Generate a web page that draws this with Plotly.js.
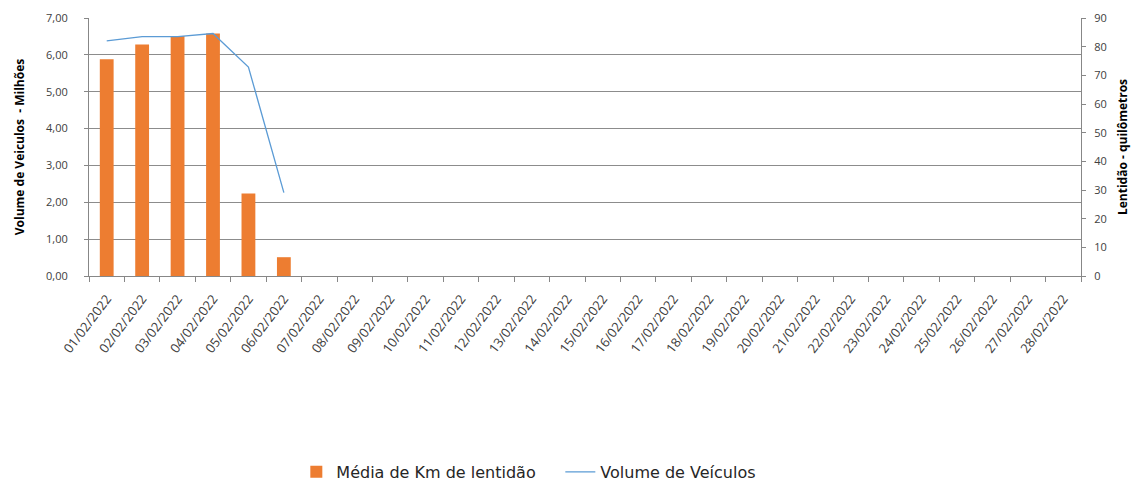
<!DOCTYPE html>
<html>
<head>
<meta charset="utf-8">
<script src="https://cdn.plot.ly/plotly-3.0.1.min.js"></script>
<style>html,body{margin:0;padding:0;background:#fff;}#chart{width:1131px;height:483px;}</style>
</head>
<body>
<div id="chart"></div>
<script>
const dates = ["01/02/2022","02/02/2022","03/02/2022","04/02/2022","05/02/2022","06/02/2022","07/02/2022","08/02/2022","09/02/2022","10/02/2022","11/02/2022","12/02/2022","13/02/2022","14/02/2022","15/02/2022","16/02/2022","17/02/2022","18/02/2022","19/02/2022","20/02/2022","21/02/2022","22/02/2022","23/02/2022","24/02/2022","25/02/2022","26/02/2022","27/02/2022","28/02/2022"];
const barDates = ["01/02/2022","02/02/2022","03/02/2022","04/02/2022","05/02/2022","06/02/2022"];
const barValues = [5.88, 6.28, 6.51, 6.58, 2.24, 0.51];
const lineValues = [82.0, 83.5, 83.5, 84.6, 72.9, 29.1];
const barName = "Média de Km de lentidão";
const lineName = "Volume de Veículos";
const leftTitle = "Volume de Veiculos  - Milhões";
const rightTitle = "Lentidão - quilômetros";

const font = "Open Sans, sans-serif";
const gray = "#404040";
const traces = [
  {type:"bar", x:barDates, y:barValues, name:barName, marker:{color:"#ED7D31"}, yaxis:"y", width:0.39},
  {type:"scatter", mode:"lines", x:barDates, y:lineValues, name:lineName, line:{color:"#5B9BD5", width:1.3}, yaxis:"y2"}
];
const layout = {
  width:1131, height:483,
  margin:{l:89, r:50, t:18, b:207, autoexpand:false},
  paper_bgcolor:"#fff", plot_bgcolor:"#fff",
  separators:",.",
  font:{family:font, size:11, color:gray},
  showlegend:true,
  legend:{orientation:"h", xref:"container", yref:"container", x:0.262, xanchor:"left", y:0.023, yanchor:"middle",
    font:{size:16, color:"#262626", family:"DejaVu Sans"}, traceorder:"normal",
    entrywidth:219, entrywidthmode:"pixels"},
  xaxis:{type:"category", categoryorder:"array", categoryarray:dates, range:[-0.5,27.5],
    tickangle:-53, ticks:"outside", tickson:"boundaries", ticklen:5, tickcolor:"#878787",
    showline:true, linecolor:"#878787", linewidth:1, showgrid:false, automargin:false,
    ticklabelstandoff:9,
    tickfont:{size:13, color:gray}},
  yaxis:{range:[0,7], dtick:1, tickformat:".2f", showgrid:true, gridcolor:"#8c8c8c", gridwidth:1,
    showline:true, linecolor:"#878787", ticks:"outside", ticklen:4, tickcolor:"#878787", zeroline:false,
    ticklabelstandoff:14, automargin:false,
    tickfont:{size:11, color:gray},
    title:{text:leftTitle, font:{size:12, color:"#000", family:font, weight:"bold"}, standoff:18}},
  yaxis2:{range:[0,90], dtick:10, overlaying:"y", side:"right", showgrid:false, zeroline:false,
    showline:true, linecolor:"#878787", ticks:"outside", ticklen:4, tickcolor:"#878787",
    ticklabelstandoff:6, automargin:false,
    tickfont:{size:11, color:gray},
    title:{text:rightTitle, font:{size:12, color:"#000", family:font, weight:"bold"}, standoff:14}},
  bargap:0.61
};
Plotly.newPlot("chart", traces, layout, {staticPlot:true, displayModeBar:false});
</script>
</body>
</html>
